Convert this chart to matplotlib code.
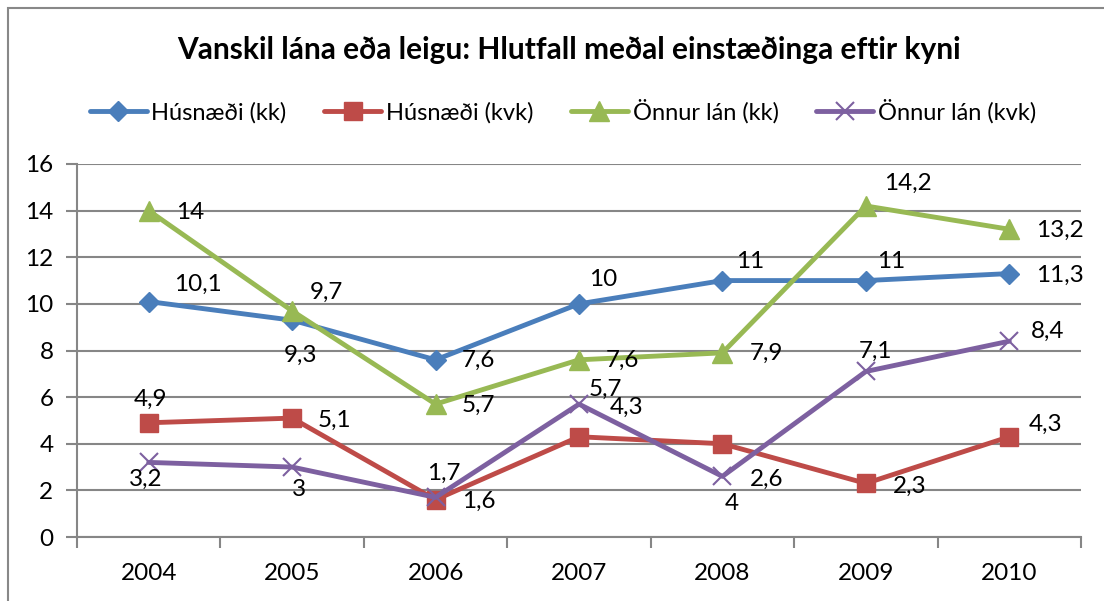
import matplotlib
matplotlib.use("Agg")
import matplotlib.pyplot as plt
from matplotlib.patches import Rectangle
from matplotlib.ticker import FixedLocator, NullFormatter

plt.rcParams['font.family'] = ['Lato', 'DejaVu Sans']

years = ['2004', '2005', '2006', '2007', '2008', '2009', '2010']
husn_kk = [10.1, 9.3, 7.6, 10, 11, 11, 11.3]
husn_kvk = [4.9, 5.1, 1.6, 4.3, 4, 2.3, 4.3]
onnur_kk = [14, 9.7, 5.7, 7.6, 7.9, 14.2, 13.2]
onnur_kvk = [3.2, 3, 1.7, 5.7, 2.6, 7.1, 8.4]
series_names = ['Húsnæði (kk)', 'Húsnæði (kvk)', 'Önnur lán (kk)', 'Önnur lán (kvk)']
title = 'Vanskil lána eða leigu: Hlutfall meðal einstæðinga eftir kyni'

colors = ['#4A7EBB', '#BE4B48', '#98B954', '#7D60A0']
markers = ['D', 's', '^', 'x']
msizes = [10, 13, 14, 13]

# label offsets in pixels (dx to left edge, dy up to center)
offsets = [
    [(25, 17), (-8, -35), (26, -1), (10, 24), (14, 19), (11, 19), (27, -2)],
    [(-15, 23), (26, -2), (26, -2), (31, 29), (2, -60), (27, -3), (19, 12)],
    [(27, -2), (18, 19), (26, -1), (27, -1), (27, -1), (18, 23), (27, -1)],
    [(-20, -17), (0, -22), (-9, 24), (10, 15), (27, -3), (-7, 20), (22, 10)],
]

W, H = 1104, 601
fig = plt.figure(figsize=(W / 100, H / 100), dpi=100)
fig.patches.append(Rectangle((7.5 / W, -0.1), 1.2, 1 - 7.5 / H + 0.1,
                             transform=fig.transFigure, fill=False,
                             edgecolor='#888888', linewidth=1.5))

left, right, top, bottom = 77, 1081, 164, 537
ax = fig.add_axes([left / W, 1 - bottom / H, (right - left) / W, (bottom - top) / H])

x = list(range(len(years)))
all_series = [husn_kk, husn_kvk, onnur_kk, onnur_kvk]
handles = []
for i, ser in enumerate(all_series):
    mew = 1.5 if markers[i] == 'x' else 1
    h, = ax.plot(x, ser, color=colors[i], linewidth=3.5, marker=markers[i],
                 markersize=msizes[i], markeredgewidth=mew,
                 markeredgecolor=colors[i], label=series_names[i], zorder=3,
                 solid_capstyle='round', solid_joinstyle='round')
    handles.append(h)
    for j, v in enumerate(ser):
        dx, dy = offsets[i][j]
        ax.annotate(f'{v:g}'.replace('.', ','), (j, v), xytext=(dx, dy),
                    textcoords='offset pixels', ha='left', va='center',
                    fontsize=17.5, color='black', zorder=5)

ax.set_xlim(-0.5, len(years) - 0.5)
ax.set_ylim(0, 16)
ax.set_yticks(range(0, 17, 2))
ax.set_yticklabels([str(v) for v in range(0, 17, 2)])
ax.yaxis.grid(True, color='#868686', linewidth=1.5)
ax.set_axisbelow(True)
ax.set_xticks(x)
ax.set_xticklabels(years)
ax.tick_params(axis='x', length=0, pad=19, labelsize=17.5)
ax.xaxis.set_minor_locator(FixedLocator([k - 0.5 for k in range(len(years) + 1)]))
ax.xaxis.set_minor_formatter(NullFormatter())
ax.tick_params(axis='x', which='minor', length=8, width=1.5, color='#868686', direction='out')
ax.tick_params(axis='y', length=8, width=1.5, color='#868686', direction='out', pad=9, labelsize=17.5)
for s in ['top', 'right']:
    ax.spines[s].set_visible(False)
for s in ['left', 'bottom']:
    ax.spines[s].set_color('#868686')
    ax.spines[s].set_linewidth(1.5)

fig.text(569 / W, 1 - 50 / H, title, ha='center', va='center',
         fontsize=21.5, fontweight='bold')
fig.legend(handles=handles, loc='center', bbox_to_anchor=(563 / W, 1 - 111 / H),
           ncol=4, frameon=False, fontsize=17, handlelength=2.4,
           columnspacing=1.6, handletextpad=0.2)

fig.savefig('out.png', dpi=100)
